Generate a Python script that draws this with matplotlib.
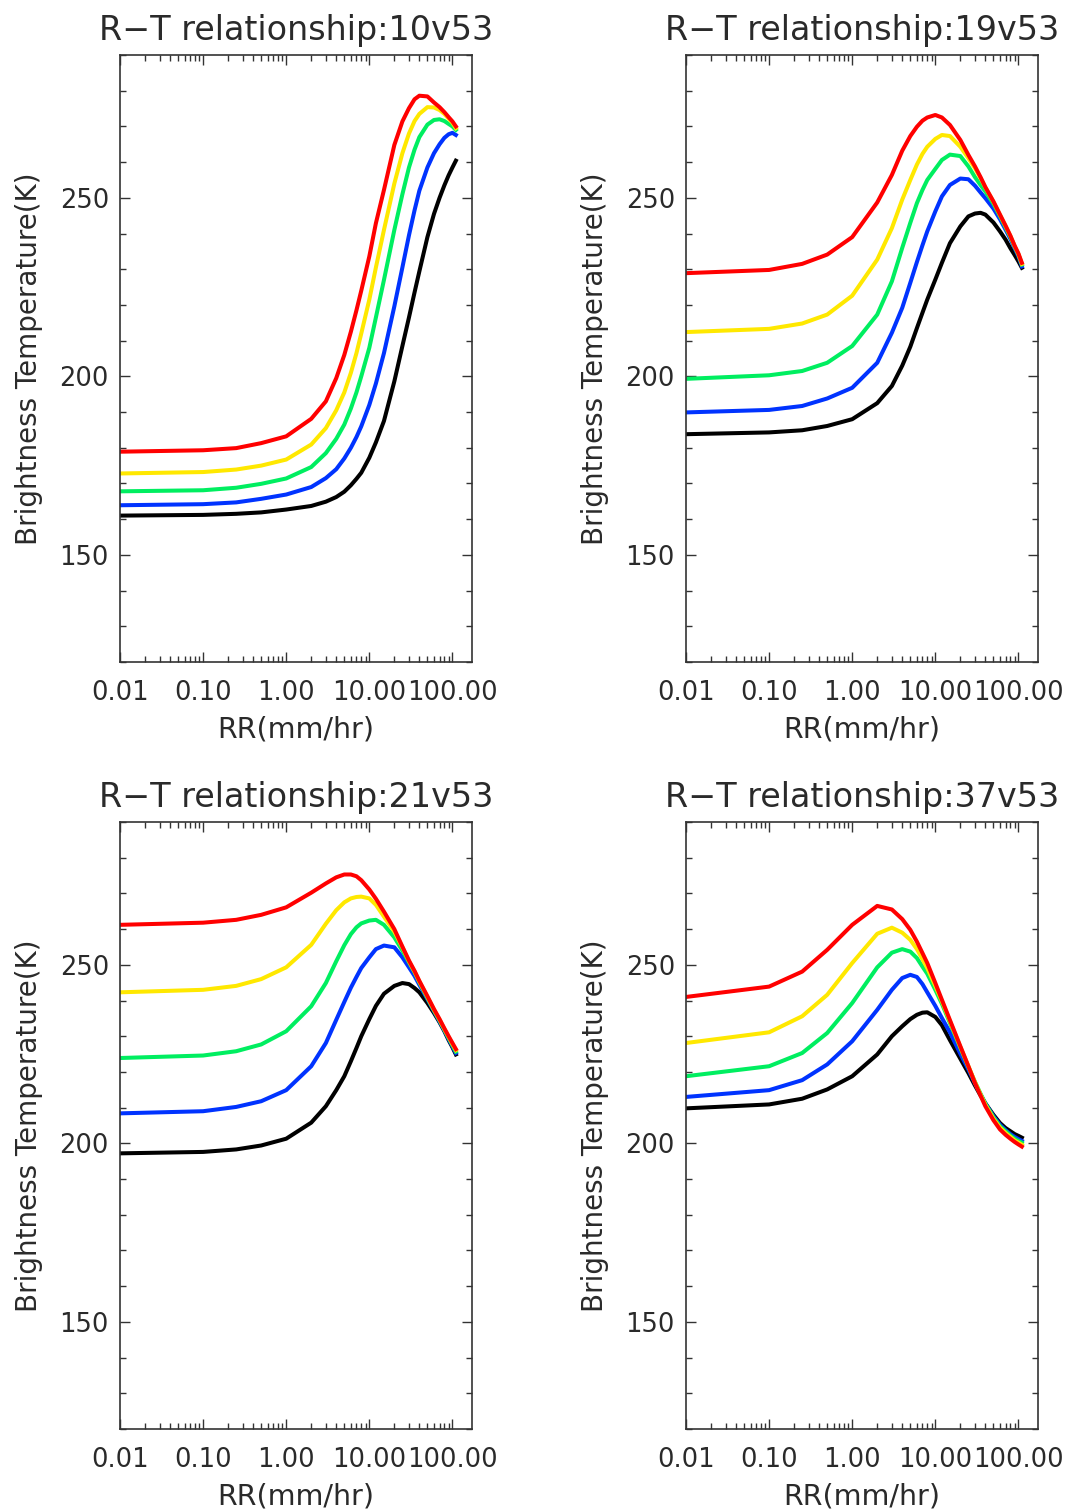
import matplotlib
matplotlib.use('Agg')
from matplotlib import pyplot as plt
from matplotlib.ticker import LogLocator, MultipleLocator, FuncFormatter, NullFormatter

# rain rate grid (mm/hr)
rr = [0.01, 0.1, 0.25, 0.5, 1, 2, 3, 4, 5, 6, 7, 8, 10, 12, 15, 20, 25, 30, 35, 40, 50, 60, 70, 80, 90, 100, 110]

# 10v53
t10_red = [178.9, 179.3, 179.9, 181.3, 183.2, 188.1, 193.0, 199.5, 206.0, 212.5, 218.5, 224.0, 233.6, 242.9, 252.2, 264.8, 271.4, 275.1, 277.6, 278.6, 278.4, 276.7, 275.4, 274.0, 272.6, 271.4, 270.0]
t10_yellow = [172.8, 173.2, 173.9, 175.0, 176.7, 180.9, 185.5, 190.5, 195.5, 201.0, 206.5, 212.0, 221.5, 230.5, 241.0, 254.0, 262.5, 268.0, 271.5, 273.5, 275.4, 275.3, 274.6, 273.5, 272.2, 271.0, 269.5]
t10_green = [167.8, 168.1, 168.8, 169.9, 171.4, 174.6, 178.5, 182.5, 186.5, 191.0, 195.5, 200.0, 208.0, 216.5, 227.0, 241.0, 251.0, 258.5, 263.5, 267.0, 270.5, 271.8, 272.0, 271.5, 270.7, 270.0, 269.0]
t10_blue = [163.9, 164.2, 164.7, 165.7, 166.9, 169.0, 171.5, 174.0, 177.0, 180.0, 183.0, 186.0, 192.0, 198.0, 206.5, 219.6, 230.5, 239.5, 246.5, 252.0, 258.5, 262.5, 265.0, 266.8, 267.8, 268.2, 267.6]
t10_black = [161.0, 161.2, 161.5, 161.9, 162.7, 163.7, 164.9, 166.2, 167.7, 169.5, 171.3, 173.0, 177.2, 181.5, 187.5, 198.6, 208.5, 216.5, 223.5, 229.4, 239.0, 245.5, 250.0, 253.5, 256.3, 258.5, 260.4]

# 19v53
t19_red = [228.9, 229.8, 231.5, 234.1, 239.0, 248.7, 256.4, 263.2, 267.3, 269.9, 271.6, 272.5, 273.2, 272.5, 270.4, 266.2, 262.0, 258.8, 255.8, 253.0, 249.0, 245.3, 242.2, 239.4, 236.6, 234.4, 231.8]
t19_yellow = [212.4, 213.3, 214.8, 217.3, 222.6, 232.7, 241.5, 249.5, 255.0, 259.3, 262.3, 264.3, 266.5, 267.6, 267.3, 264.3, 261.1, 258.3, 255.5, 252.9, 248.9, 245.2, 242.1, 239.3, 236.5, 234.2, 231.5]
t19_green = [199.3, 200.3, 201.5, 203.8, 208.5, 217.3, 226.6, 236.0, 243.0, 248.5, 252.2, 255.0, 258.1, 260.6, 262.1, 261.7, 258.8, 255.8, 253.6, 251.8, 248.3, 244.8, 241.7, 239.0, 236.3, 234.1, 231.3]
t19_blue = [189.9, 190.6, 191.7, 193.8, 196.8, 203.8, 212.2, 219.2, 226.2, 232.0, 236.7, 240.6, 246.2, 250.4, 253.6, 255.4, 255.2, 253.4, 251.5, 249.9, 247.0, 244.0, 241.1, 238.5, 235.9, 233.6, 230.8]
t19_black = [183.8, 184.3, 184.9, 186.1, 188.0, 192.5, 197.3, 203.0, 208.3, 213.5, 217.8, 221.5, 227.1, 231.8, 237.3, 242.0, 244.8, 245.6, 245.8, 245.3, 243.1, 240.6, 238.3, 235.9, 234.0, 232.2, 230.4]

# 21v53
t21_red = [261.2, 261.8, 262.6, 264.0, 266.1, 270.2, 272.8, 274.5, 275.3, 275.3, 274.8, 273.7, 271.1, 268.5, 264.9, 260.0, 255.1, 251.2, 248.3, 245.5, 241.2, 237.6, 234.8, 232.2, 230.0, 228.1, 226.4]
t21_yellow = [242.3, 243.0, 244.1, 246.0, 249.3, 255.6, 261.5, 265.3, 267.5, 268.6, 269.0, 269.1, 268.6, 266.8, 263.5, 259.3, 254.9, 251.0, 248.1, 245.3, 241.0, 237.4, 234.6, 232.0, 229.8, 227.8, 226.1]
t21_green = [223.9, 224.6, 225.8, 227.7, 231.4, 238.4, 244.9, 251.0, 255.5, 258.6, 260.5, 261.6, 262.4, 262.6, 261.2, 257.7, 254.0, 250.7, 247.9, 245.1, 240.7, 237.2, 234.4, 231.8, 229.5, 227.5, 225.7]
t21_blue = [208.4, 209.0, 210.2, 211.8, 214.9, 221.6, 228.1, 234.6, 239.6, 243.6, 246.6, 249.1, 252.1, 254.4, 255.4, 254.9, 252.1, 249.3, 246.9, 244.4, 240.4, 237.0, 234.1, 231.6, 229.2, 227.2, 225.3]
t21_black = [197.2, 197.6, 198.3, 199.4, 201.3, 205.8, 210.4, 214.9, 218.8, 223.0, 226.7, 230.0, 234.8, 238.5, 241.9, 244.1, 244.9, 244.6, 243.5, 242.3, 239.3, 236.5, 233.9, 231.4, 228.9, 226.9, 224.9]

# 37v53
t37_red = [241.0, 243.9, 248.1, 254.2, 261.2, 266.5, 265.5, 262.8, 259.8, 256.5, 253.3, 250.5, 244.9, 240.2, 234.5, 227.2, 221.6, 216.9, 213.4, 210.4, 206.5, 203.9, 202.4, 201.3, 200.4, 199.7, 199.1]
t37_yellow = [228.1, 231.1, 235.6, 241.6, 250.5, 258.7, 260.4, 259.0, 257.0, 254.4, 251.6, 249.1, 244.1, 239.8, 234.2, 227.0, 221.6, 217.1, 213.7, 210.8, 206.9, 204.4, 202.9, 201.8, 200.8, 200.2, 199.6]
t37_green = [218.8, 221.6, 225.3, 230.9, 239.3, 249.3, 253.4, 254.4, 253.7, 251.9, 249.5, 247.5, 243.0, 239.1, 233.7, 226.7, 221.4, 217.2, 213.9, 211.1, 207.3, 204.8, 203.4, 202.2, 201.3, 200.7, 200.2]
t37_blue = [213.0, 214.9, 217.7, 222.1, 228.6, 237.4, 243.0, 246.3, 247.2, 246.6, 244.6, 242.3, 238.5, 235.1, 231.1, 225.1, 220.7, 216.8, 213.7, 211.2, 207.6, 205.2, 203.7, 202.6, 201.8, 201.2, 200.7]
t37_black = [209.8, 210.9, 212.5, 215.1, 218.8, 224.9, 230.0, 232.8, 234.8, 236.0, 236.6, 236.7, 235.4, 233.1, 228.9, 223.7, 219.7, 216.2, 213.4, 211.2, 208.0, 205.7, 204.3, 203.4, 202.6, 202.1, 201.6]

channels = ['10v53', '19v53', '21v53', '37v53']
colors = ['#000000', '#0033ff', '#00ee60', '#ffe800', '#ff0000']

TXT = '#2a2a2a'
W, H = 1068, 1512


def style_axes(ax):
    ax.set_xscale('log')
    ax.set_xlim(0.01, 172)
    ax.set_ylim(120, 290)
    ax.xaxis.set_major_locator(LogLocator(base=10, numticks=10))
    ax.xaxis.set_minor_locator(LogLocator(base=10, subs=range(2, 10), numticks=20))
    ax.xaxis.set_major_formatter(FuncFormatter(lambda v, p: '%.2f' % v))
    ax.xaxis.set_minor_formatter(NullFormatter())
    ax.yaxis.set_major_locator(MultipleLocator(50))
    ax.yaxis.set_minor_locator(MultipleLocator(10))
    ax.tick_params(which='both', direction='in', top=True, right=True,
                   color='#333333', width=1.0)
    ax.tick_params(which='major', length=7)
    ax.tick_params(which='minor', length=4)
    ax.tick_params(axis='x', which='major', pad=13, labelsize=18.5, labelcolor=TXT)
    ax.tick_params(axis='y', which='major', pad=8, labelsize=18.5, labelcolor=TXT)
    for s in ax.spines.values():
        s.set_linewidth(1.2)
        s.set_color('#333333')
    ax.set_xlabel('RR(mm/hr)', fontsize=20.5, color=TXT, labelpad=7)
    ax.set_ylabel('Brightness Temperature(K)', fontsize=20, color=TXT, labelpad=12)


def main():
    fig = plt.figure(figsize=(W / 100, H / 100), dpi=100)
    boxes = [(120, 55), (686, 55), (120, 822), (686, 822)]
    data = [
        [t10_black, t10_blue, t10_green, t10_yellow, t10_red],
        [t19_black, t19_blue, t19_green, t19_yellow, t19_red],
        [t21_black, t21_blue, t21_green, t21_yellow, t21_red],
        [t37_black, t37_blue, t37_green, t37_yellow, t37_red],
    ]
    for (x0, y0), chan, curves in zip(boxes, channels, data):
        ax = fig.add_axes([x0 / W, 1 - (y0 + 607) / H, 352 / W, 607 / H])
        for tb, c in zip(curves, colors):
            ax.plot(rr, tb, color=c, lw=2.9, solid_joinstyle='round')
        style_axes(ax)
        ax.set_title('R\u2212T relationship:' + chan, fontsize=24, color=TXT, pad=11)

    fig.savefig('out.png', dpi=100)


if __name__ == '__main__':
    main()
